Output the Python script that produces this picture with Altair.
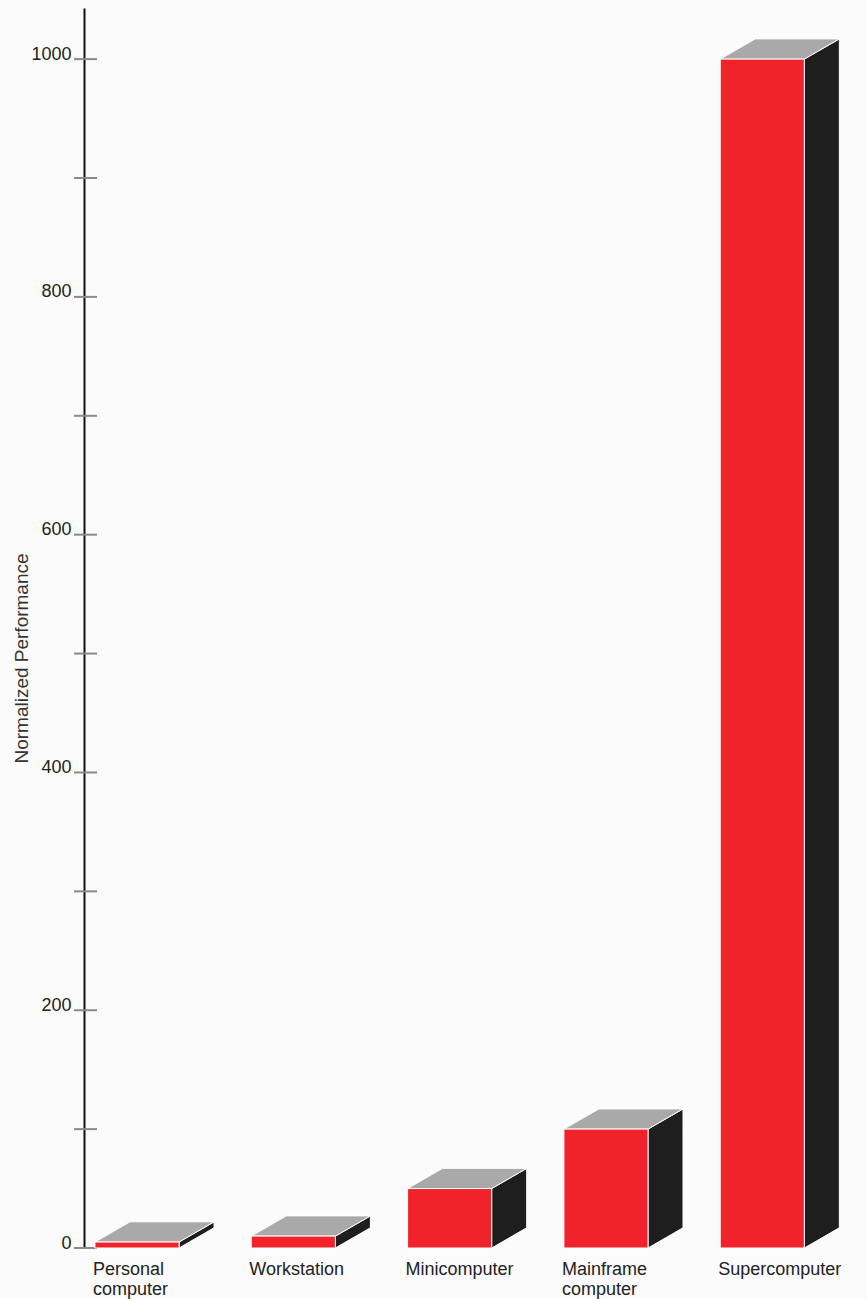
import altair as alt
import pandas as pd

categories = ["Personal\ncomputer", "Workstation", "Minicomputer", "Mainframe\ncomputer", "Supercomputer"]
values = [5, 10, 50, 100, 1000]
tick_values = [0, 100, 200, 300, 400, 500, 600, 700, 800, 900, 1000]
label_values = [0, 200, 400, 600, 800, 1000]

HALF = 0.269   # half width of front face (category units)
DX = 0.224     # depth offset in x (category units)
DY = 17        # depth offset in y (value units)

front_rows, side_rows, top_rows, label_rows = [], [], [], []
for i, (c, v) in enumerate(zip(categories, values)):
    front_rows.append({"cat": c, "x": i - HALF, "x2": i + HALF, "y": 0, "y2": v})
    side_rows.append({"cat": c, "x": i + HALF, "y": 0, "y2": v})
    side_rows.append({"cat": c, "x": i + HALF + DX, "y": DY, "y2": v + DY})
    top_rows.append({"cat": c, "y": v, "x": i - HALF, "x2": i + HALF})
    top_rows.append({"cat": c, "y": v + DY, "x": i - HALF + DX, "x2": i + HALF + DX})
    label_rows.append({"cat": c, "x": i - HALF})

front = pd.DataFrame(front_rows)
side = pd.DataFrame(side_rows)
top = pd.DataFrame(top_rows)
labels = pd.DataFrame(label_rows)
ticks = pd.DataFrame({"t": tick_values})

xs = alt.Scale(domain=[-0.339, 4.67], nice=False, zero=False)
ys = alt.Scale(domain=[0, 1043], nice=False, zero=False)

FONT = "Liberation Sans"

front_layer = alt.Chart(front).mark_rect(color="#f0222a", stroke="white", strokeWidth=1).encode(
    x=alt.X("x:Q", scale=xs, axis=None),
    x2="x2",
    y=alt.Y("y:Q", scale=ys, title="Normalized Performance",
            axis=alt.Axis(values=label_values, format="d", ticks=False, grid=False,
                          domainColor="#111", domainWidth=2,
                          labelFont=FONT, labelFontSize=18, labelColor="#222",
                          labelPadding=13, labelOffset=0, labelBaseline="alphabetic",
                          titleFont=FONT, titleFontSize=19, titleFontWeight="normal",
                          titleColor="#333", titleX=-63, titleY=650,
                          titleAlign="center", titleBaseline="middle", titleAngle=270)),
    y2="y2",
)

side_layer = alt.Chart(side).mark_area(color="#1e1e1e", stroke="white", strokeWidth=1).encode(
    x=alt.X("x:Q", scale=xs, axis=None),
    y=alt.Y("y:Q", scale=ys),
    y2="y2",
    detail="cat:N",
)

top_layer = alt.Chart(top).mark_area(orient="horizontal", color="#a9a9a9", stroke="white", strokeWidth=1).encode(
    y=alt.Y("y:Q", scale=ys),
    x=alt.X("x:Q", scale=xs, axis=None),
    x2="x2",
    detail="cat:N",
)

tick_layer = alt.Chart(ticks).mark_rule(color="#8a8a8a", strokeWidth=2).encode(
    y=alt.Y("t:Q", scale=ys),
    x=alt.value(-10),
    x2=alt.value(13),
)

label_layer = alt.Chart(labels).mark_text(
    align="left", baseline="alphabetic", font=FONT, fontSize=18, color="#222",
    lineBreak="\n", lineHeight=20, dx=-2,
).encode(
    x=alt.X("x:Q", scale=xs, axis=None),
    y=alt.value(1267),
    text="cat:N",
)

chart = alt.layer(tick_layer, side_layer, top_layer, front_layer, label_layer).properties(
    width=783, height=1240,
    padding={"left": 84, "top": 8, "right": 0, "bottom": 51},
    autosize=alt.AutoSizeParams(type="none"),
    background="#fbfbfb",
).configure_view(stroke=None)

chart.save("out.html", embed_options={"renderer": "svg", "actions": False})
